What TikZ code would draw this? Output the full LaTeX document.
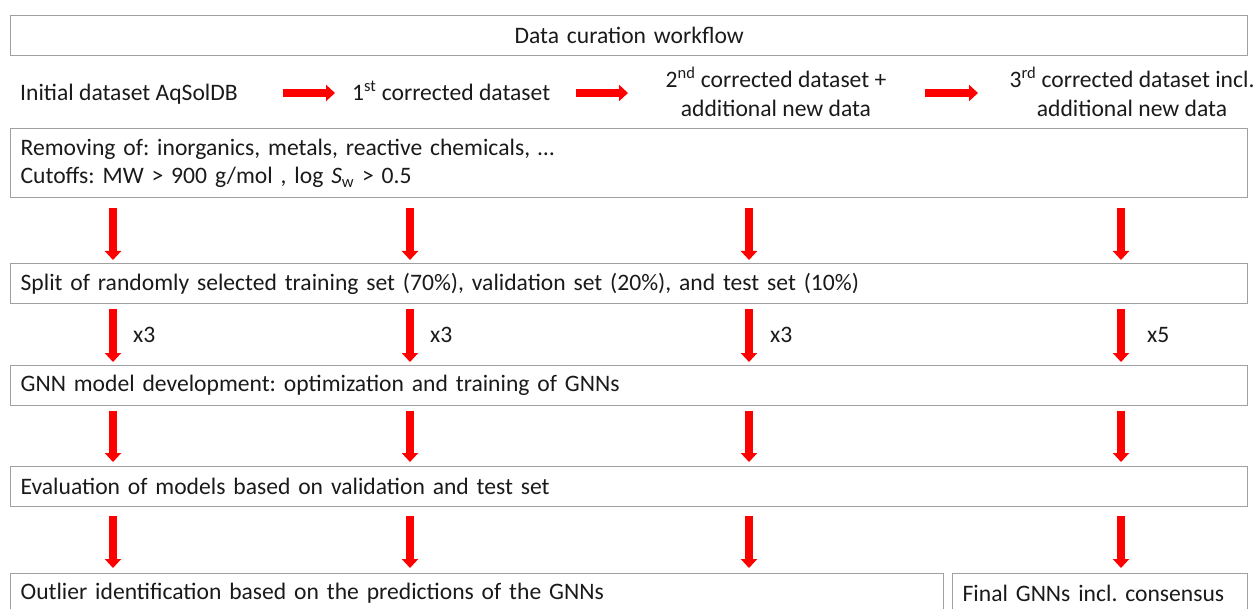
\documentclass[tikz,border=0pt]{standalone}
\usepackage{fontspec}
\setmainfont{Carlito}
\usetikzlibrary{arrows.meta,calc}
\definecolor{boxgray}{HTML}{A0A0A0}
\definecolor{txt}{HTML}{1A1A1A}
\definecolor{arrred}{HTML}{FF0000}
\frenchspacing
\begin{document}
\begin{tikzpicture}[x=1pt,y=-1pt,
  every node/.style={text=txt, font=\fontsize{23.6}{28.5}\selectfont},
  box/.style={draw=boxgray, line width=1.3pt, inner ysep=0pt, inner xsep=10pt, anchor=north west, align=left},
  lbl/.style={inner sep=0pt},
  arr/.style={draw=arrred, line width=8.5pt, -{Triangle[width=16pt,length=9pt]}}]
\clip (0,0) rectangle (1257,609);
% columns
\coordinate (c1) at (113,0);
\coordinate (c2) at (410,0);
\coordinate (c3) at (749,0);
\coordinate (c4) at (1121,0);
% boxes
\node[box, text width=1217pt, minimum height=40pt, align=center] (title) at (10,15) {Data curation workflow};
\node[box, text width=1217pt, minimum height=69pt] (b2) at (10,128) {Removing of: inorganics, metals, reactive chemicals, \ldots\\Cutoffs: MW > 900 g/mol , log \textit{S}\textsubscript{w} > 0.5};
\node[box, text width=1217pt, minimum height=40pt] (b3) at (10,263) {Split of randomly selected training set (70\%), validation set (20\%), and test set (10\%)};
\node[box, text width=1217pt, minimum height=40pt] (b4) at (10,365) {GNN model development: optimization and training of GNNs};
\node[box, text width=1217pt, minimum height=40pt] (b5) at (10,466) {Evaluation of models based on validation and test set};
\node[box, text width=913pt, minimum height=40pt] (b6) at (10,573) {Outlier identification based on the predictions of the GNNs};
\node[box, text width=275pt, minimum height=40pt] (b7) at (952,573) {Final GNNs incl. consensus};
% dataset row
\node[lbl, anchor=base west] (t0) at (20,101) {Initial dataset AqSolDB};
\node[lbl, anchor=base west] (t1) at (352,101) {1\textsuperscript{st} corrected dataset};
\node[lbl, align=center] (t2) at (776,92) {2\textsuperscript{nd} corrected dataset +\\additional new data};
\node[lbl, align=center] (t3) at (1132,92) {3\textsuperscript{rd} corrected dataset incl.\\additional new data};
\coordinate (h1s) at (283,93); \coordinate (h1e) at (335,93);
\coordinate (h2s) at (576,93); \coordinate (h2e) at (628,93);
\coordinate (h3s) at (925,93); \coordinate (h3e) at (978,93);
\draw[arr] (h1s) -- (h1e);
\draw[arr] (h2s) -- (h2e);
\draw[arr] (h3s) -- (h3e);
% vertical arrows
\foreach \c in {c1,c2,c3,c4}{
  \draw[arr] ($(b2.south -| \c)+(0,10)$) -- ($(b3.north -| \c)+(0,-3)$);
  \draw[arr] ($(b3.south -| \c)+(0,5)$) -- ($(b4.north -| \c)+(0,-3)$);
  \draw[arr] ($(b4.south -| \c)+(0,5)$) -- ($(b5.north -| \c)+(0,-4)$);
}
\foreach \c in {c1,c2,c3}{
  \draw[arr] ($(b5.south -| \c)+(0,9)$) -- ($(b6.north -| \c)+(0,-5)$);
}
\draw[arr] ($(b5.south -| c4)+(0,9)$) -- ($(b7.north -| c4)+(0,-5)$);
% repetition labels
\node[lbl, anchor=west] (r1) at (133,335) {x3};
\node[lbl, anchor=west] (r2) at (430,335) {x3};
\node[lbl, anchor=west] (r3) at (770,335) {x3};
\node[lbl, anchor=west] (r4) at (1147,335) {x5};
\end{tikzpicture}
\end{document}
